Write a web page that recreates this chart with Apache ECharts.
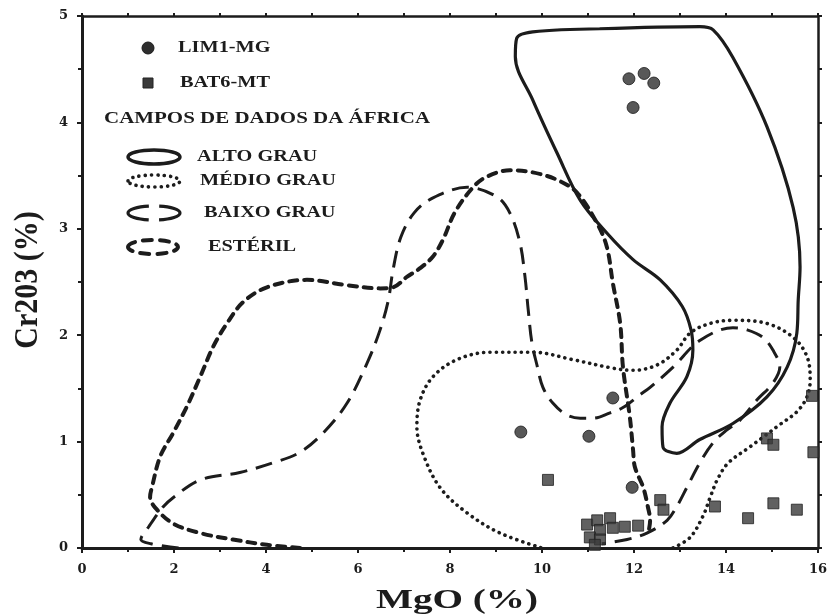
<!DOCTYPE html>
<html>
<head>
<meta charset="utf-8">
<script src="https://cdn.jsdelivr.net/npm/echarts@6/dist/echarts.min.js"></script>
<style>
html,body{margin:0;padding:0;background:#fff;}
#chart{width:831px;height:616px;}
</style>
</head>
<body>
<div id="chart"></div>
<script>
// ---- Tick values ----
const xTicks = [0, 2, 4, 6, 8, 10, 12, 14, 16];
const yTicks = [0, 1, 2, 3, 4, 5];

// ---- Sample points (MgO %, Cr2O3 %) ----
const lim1MG = [
  [11.89, 4.41], [12.22, 4.46], [12.43, 4.37], [11.98, 4.14],
  [9.54, 1.09], [11.02, 1.05], [11.54, 1.41], [11.96, 0.57]
];
const bat6MT = [
  [10.13, 0.64],
  [10.98, 0.22], [11.20, 0.26], [11.48, 0.28], [11.26, 0.17], [11.54, 0.19],
  [11.80, 0.20], [12.09, 0.21], [11.04, 0.10], [11.26, 0.08], [11.15, 0.03],
  [12.57, 0.45], [12.64, 0.36], [13.76, 0.39], [14.48, 0.28], [15.03, 0.42],
  [15.54, 0.36], [14.89, 1.03], [15.03, 0.97], [15.87, 1.43], [15.90, 0.90]
];

// ---- African data fields (outlines) ----
const altoGrau = [
  [11.26, 4.88], [13.43, 4.90], [13.72, 4.87],
  [14.15, 4.61], [14.89, 3.96], [15.46, 3.20], [15.61, 2.64], [15.57, 2.33],
  [15.54, 2.02], [15.33, 1.70], [14.89, 1.42], [14.15, 1.17], [13.43, 1.02],
  [12.93, 0.89], [12.63, 0.95], [12.61, 1.14], [12.78, 1.36], [13.15, 1.61],
  [13.28, 1.86], [13.24, 2.05], [13.05, 2.27], [12.57, 2.52],
  [11.98, 2.71], [11.41, 2.96], [10.83, 3.27], [10.33, 3.71], [9.80, 4.21],
  [9.42, 4.62], [9.45, 4.79], [9.80, 4.85], [11.26, 4.88]
];
const medioGrau = [
  [12.85, 0.00], [13.22, 0.10], [13.50, 0.30], [13.65, 0.47], [13.82, 0.65],
  [14.05, 0.80], [14.52, 0.95], [14.80, 1.04], [15.17, 1.16], [15.54, 1.28],
  [15.76, 1.42], [15.83, 1.58], [15.76, 1.80], [15.46, 1.98], [14.89, 2.11],
  [14.15, 2.14], [13.65, 2.11], [13.22, 2.02], [12.93, 1.86], [12.50, 1.72],
  [11.98, 1.67], [11.54, 1.69], [10.67, 1.77], [9.80, 1.84], [8.87, 1.84],
  [8.15, 1.77], [7.63, 1.61], [7.35, 1.39], [7.28, 1.14], [7.41, 0.89],
  [7.78, 0.57], [8.37, 0.33], [9.09, 0.14], [10.00, 0.00]
];
const baixoGrau = [
  [2.10, 0.00], [1.50, 0.04], [1.28, 0.08], [1.45, 0.20], [1.75, 0.38],
  [2.00, 0.48], [2.57, 0.64], [3.43, 0.71], [4.15, 0.80], [4.74, 0.90],
  [5.24, 1.08], [5.76, 1.36], [6.20, 1.74], [6.48, 2.05], [6.66, 2.33],
  [6.76, 2.61], [6.93, 2.92], [7.22, 3.15], [7.63, 3.29], [8.37, 3.39],
  [9.02, 3.30], [9.30, 3.15], [9.52, 2.87], [9.63, 2.55], [9.70, 2.24],
  [9.78, 1.93], [9.89, 1.72], [10.02, 1.51], [10.24, 1.36], [10.54, 1.25],
  [10.83, 1.22], [11.11, 1.22], [11.48, 1.27], [11.76, 1.32], [12.13, 1.44],
  [12.35, 1.51], [12.85, 1.70], [13.43, 1.95], [14.15, 2.07], [14.46, 2.05],
  [14.80, 1.98], [15.02, 1.86], [15.17, 1.70], [15.02, 1.55], [14.67, 1.39],
  [14.30, 1.20], [14.02, 1.11], [13.72, 0.99], [13.43, 0.80], [13.15, 0.57],
  [12.93, 0.39], [12.72, 0.26], [12.28, 0.14], [11.85, 0.08], [11.30, 0.04]
];
const esteril = [
  [4.74, 0.00], [4.02, 0.03], [3.28, 0.08], [2.57, 0.14], [1.98, 0.23],
  [1.59, 0.38], [1.48, 0.48], [1.52, 0.57], [1.70, 0.86], [1.98, 1.08],
  [2.28, 1.33], [2.57, 1.61], [2.85, 1.89], [3.15, 2.11], [3.50, 2.31],
  [4.02, 2.45], [4.89, 2.52], [5.76, 2.47], [6.48, 2.44], [6.76, 2.45],
  [7.07, 2.55], [7.35, 2.63], [7.63, 2.74], [7.85, 2.90], [8.10, 3.15],
  [8.50, 3.39], [8.80, 3.49], [9.30, 3.55], [9.80, 3.53], [10.33, 3.46],
  [10.76, 3.34], [11.20, 3.05], [11.41, 2.83], [11.54, 2.49], [11.70, 2.11],
  [11.76, 1.70], [11.91, 1.23], [11.98, 0.92], [12.02, 0.76], [12.20, 0.57],
  [12.30, 0.39], [12.35, 0.26], [12.30, 0.12]
];

// ---- Texts ----
const xTitle = 'MgO (%)';
const yTitle = 'Cr203 (%)';
const legendPoints = ['LIM1-MG', 'BAT6-MT'];
const legendHeader = 'CAMPOS DE DADOS DA ÁFRICA';
const legendFields = ['ALTO GRAU', 'MÉDIO GRAU', 'BAIXO GRAU', 'ESTÉRIL'];

const INK = '#1c1c1c';
const SERIF = '"Liberation Serif", "DejaVu Serif", serif';
const TICKFONT = '"DejaVu Serif", serif';

const styles = {
  alto:  { color: INK, width: 3.2, type: 'solid', cap: 'round' },
  medio: { color: INK, width: 3.6, type: [0.1, 6.2], cap: 'round' },
  baixo: { color: INK, width: 3.0, type: [17, 9], cap: 'butt' },
  est:   { color: INK, width: 4.0, type: [8, 7], cap: 'round' }
};

function outline(name, data, st) {
  return {
    name: name, type: 'line', data: data, smooth: 0.35,
    showSymbol: false, symbol: 'none', silent: true, z: 3,
    lineStyle: { color: st.color, width: st.width, type: st.type, cap: st.cap, join: 'round' }
  };
}

const chart = echarts.init(document.getElementById('chart'), null, { renderer: 'canvas' });

const lbl = (t, x, y, extra) => Object.assign({
  type: 'text', x: x, y: y, scaleX: 1.27,
  style: { text: t, font: 'bold 16px ' + SERIF, fill: INK, textVerticalAlign: 'middle', textAlign: 'left' }
}, extra || {});

const option = {
  animation: false,
  backgroundColor: '#ffffff',
  grid: { left: 82, right: 13, top: 16, bottom: 68, containLabel: false },
  xAxis: [
    {
      type: 'value', min: xTicks[0], max: xTicks[xTicks.length - 1], interval: 2, position: 'bottom',
      axisLine: { show: true, lineStyle: { color: INK, width: 3 } },
      axisTick: { show: true, inside: false, length: 5, lineStyle: { color: INK, width: 2 } },
      minorTick: { show: true, splitNumber: 2, length: 4, lineStyle: { color: INK, width: 2 } },
      splitLine: { show: false },
      axisLabel: { margin: 15, color: INK, fontFamily: TICKFONT, fontWeight: 'bold', fontSize: 13 }
    },
    {
      type: 'value', min: xTicks[0], max: xTicks[xTicks.length - 1], interval: 1, position: 'top',
      axisLine: { show: true, onZero: false, lineStyle: { color: INK, width: 2.5 } },
      axisTick: { show: true, inside: false, length: 3, lineStyle: { color: INK, width: 2 } },
      splitLine: { show: false }, axisLabel: { show: false }
    }
  ],
  yAxis: [
    {
      type: 'value', min: yTicks[0], max: yTicks[yTicks.length - 1], interval: 1, position: 'left',
      axisLine: { show: true, lineStyle: { color: INK, width: 3 } },
      axisTick: { show: true, inside: false, length: 5, lineStyle: { color: INK, width: 2 } },
      minorTick: { show: true, splitNumber: 2, length: 4, lineStyle: { color: INK, width: 2 } },
      splitLine: { show: false },
      axisLabel: { margin: 14, color: INK, fontFamily: TICKFONT, fontWeight: 'bold', fontSize: 13 }
    },
    {
      type: 'value', min: yTicks[0], max: yTicks[yTicks.length - 1], interval: 0.5, position: 'right',
      axisLine: { show: true, onZero: false, lineStyle: { color: INK, width: 2.5 } },
      axisTick: { show: true, inside: false, length: 4, lineStyle: { color: INK, width: 2 } },
      splitLine: { show: false }, axisLabel: { show: false }
    }
  ],
  series: [
    outline('ALTO GRAU', altoGrau, styles.alto),
    outline('MÉDIO GRAU', medioGrau, styles.medio),
    outline('BAIXO GRAU', baixoGrau, styles.baixo),
    outline('ESTÉRIL', esteril, styles.est),
    {
      name: 'LIM1-MG', type: 'scatter', data: lim1MG, symbol: 'circle', symbolSize: 12, z: 5,
      itemStyle: { color: '#2e2e2e', borderColor: '#1a1a1a', borderWidth: 1 }, silent: true
    },
    {
      name: 'BAT6-MT', type: 'scatter', data: bat6MT, symbol: 'rect', symbolSize: 11, z: 5,
      itemStyle: { color: '#3a3a3a', borderColor: '#222', borderWidth: 1 }, silent: true
    }
  ],
  graphic: [
    // point legend
    { type: 'circle', shape: { cx: 148, cy: 48, r: 6 }, style: { fill: '#2e2e2e', stroke: '#1a1a1a', lineWidth: 1 } },
    lbl(legendPoints[0], 178, 48),
    { type: 'rect', shape: { x: 143, y: 78, width: 10, height: 10 }, style: { fill: '#3a3a3a', stroke: '#222', lineWidth: 1 } },
    lbl(legendPoints[1], 180, 83),
    lbl(legendHeader, 104, 119, { scaleX: 1.31 }),
    // field legend symbols
    { type: 'ellipse', shape: { cx: 154, cy: 157, rx: 26, ry: 7 }, style: { fill: 'none', stroke: INK, lineWidth: 3.5 } },
    lbl(legendFields[0], 197, 157),
    { type: 'ellipse', shape: { cx: 154, cy: 181, rx: 26, ry: 6 }, style: { fill: 'none', stroke: INK, lineWidth: 3.6, lineDash: [0.1, 6.2], lineCap: 'round' } },
    lbl(legendFields[1], 200, 181),
    { type: 'ellipse', shape: { cx: 154, cy: 213, rx: 26, ry: 7 }, style: { fill: 'none', stroke: INK, lineWidth: 3.2, lineDash: [46.2, 10], lineDashOffset: 23.1 } },
    lbl(legendFields[2], 204, 213),
    { type: 'ellipse', shape: { cx: 153, cy: 247, rx: 25, ry: 7 }, style: { fill: 'none', stroke: INK, lineWidth: 4, lineDash: [9, 8], lineCap: 'round' } },
    lbl(legendFields[3], 208, 247),
    // axis titles
    {
      type: 'text', x: 457, y: 601, scaleX: 1.4,
      style: { text: xTitle, font: 'bold 28px ' + SERIF, fill: INK, textAlign: 'center', textVerticalAlign: 'middle' }
    },
    {
      type: 'text', x: 28, y: 280, rotation: Math.PI / 2, scaleY: 1.15,
      style: { text: yTitle, font: 'bold 30px ' + SERIF, fill: INK, textAlign: 'center', textVerticalAlign: 'middle' }
    }
  ]
};

chart.setOption(option);
</script>
</body>
</html>
